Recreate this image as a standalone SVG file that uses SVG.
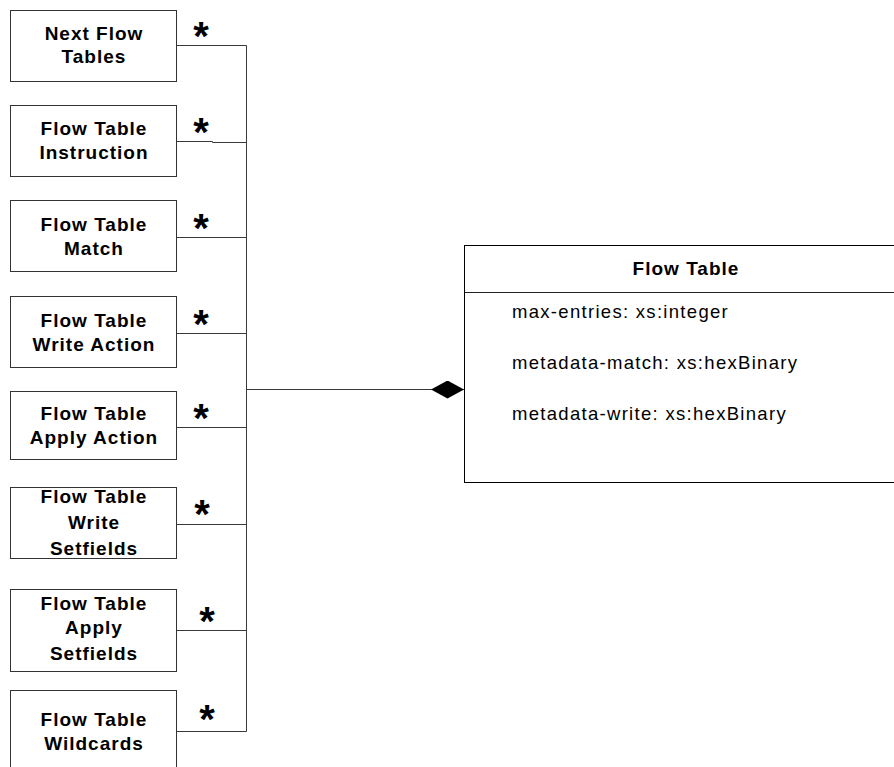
<svg xmlns="http://www.w3.org/2000/svg" width="894" height="767" viewBox="0 0 894 767">
  <style>
    .box { fill: #ffffff; stroke: #333333; stroke-width: 1; }
    .wire { fill: none; stroke: #3a3a3a; stroke-width: 1; }
    .lbl { font-family: "Liberation Sans", Arial, sans-serif; font-weight: bold; font-size: 19px; letter-spacing: 1px; text-anchor: middle; fill: #000; }
    .attr { font-family: "Liberation Sans", Arial, sans-serif; font-size: 18.5px; letter-spacing: 1.3px; fill: #000; }
    .mult { font-family: "Liberation Sans", Arial, sans-serif; font-weight: bold; font-size: 40px; text-anchor: middle; fill: #000; }
  </style>
  <defs>
    <marker id="composition" markerWidth="34" markerHeight="18" refX="33" refY="9" orient="auto" markerUnits="userSpaceOnUse">
      <path d="M0,9 L16.5,0 L33,9 L16.5,18 Z" fill="#000"/>
    </marker>
  </defs>
  <rect width="894" height="767" fill="#ffffff"/>

  <!-- connectors -->
  <g id="connectors">
    <path class="wire" d="M246.5,45.5 V731.5"/>
    <path class="wire" d="M177,45.5 H246.5"/>
    <path class="wire" d="M177,141.5 H212.5 V142.5 H246.5"/>
    <path class="wire" d="M177,237.5 H246.5"/>
    <path class="wire" d="M177,333.5 H246.5"/>
    <path class="wire" d="M177,427.5 H246.5"/>
    <path class="wire" d="M177,524.5 H246.5"/>
    <path class="wire" d="M177,630.5 H246.5"/>
    <path class="wire" d="M177,731.5 H246.5"/>
    <path class="wire" d="M246.5,389.5 H464" marker-end="url(#composition)"/>
    <text class="mult" x="201" y="50">*</text>
    <text class="mult" x="201" y="146">*</text>
    <text class="mult" x="201" y="242">*</text>
    <text class="mult" x="201" y="338">*</text>
    <text class="mult" x="201" y="432">*</text>
    <text class="mult" x="202" y="528">*</text>
    <text class="mult" x="207" y="635">*</text>
    <text class="mult" x="207" y="733">*</text>
  </g>

  <g id="next-flow-tables">
    <rect class="box" x="10.5" y="10.5" width="166" height="71"/>
    <text class="lbl" x="94" y="40">Next Flow</text>
    <text class="lbl" x="94" y="63">Tables</text>
  </g>
  <g id="flow-table-instruction">
    <rect class="box" x="10.5" y="105.5" width="166" height="71"/>
    <text class="lbl" x="94" y="135">Flow Table</text>
    <text class="lbl" x="94" y="159">Instruction</text>
  </g>
  <g id="flow-table-match">
    <rect class="box" x="10.5" y="200.5" width="166" height="71"/>
    <text class="lbl" x="94" y="231">Flow Table</text>
    <text class="lbl" x="94" y="255">Match</text>
  </g>
  <g id="flow-table-write-action">
    <rect class="box" x="10.5" y="296.5" width="166" height="71"/>
    <text class="lbl" x="94" y="327">Flow Table</text>
    <text class="lbl" x="94" y="351">Write Action</text>
  </g>
  <g id="flow-table-apply-action">
    <rect class="box" x="10.5" y="391.5" width="166" height="68"/>
    <text class="lbl" x="94" y="420">Flow Table</text>
    <text class="lbl" x="94" y="444">Apply Action</text>
  </g>
  <g id="flow-table-write-setfields">
    <rect class="box" x="10.5" y="487.5" width="166" height="71"/>
    <text class="lbl" x="94" y="503">Flow Table</text>
    <text class="lbl" x="94" y="529">Write</text>
    <text class="lbl" x="94" y="555">Setfields</text>
  </g>
  <g id="flow-table-apply-setfields">
    <rect class="box" x="10.5" y="589.5" width="166" height="82"/>
    <text class="lbl" x="94" y="610">Flow Table</text>
    <text class="lbl" x="94" y="634">Apply</text>
    <text class="lbl" x="94" y="660">Setfields</text>
  </g>
  <g id="flow-table-wildcards">
    <rect class="box" x="10.5" y="690.5" width="166" height="90"/>
    <text class="lbl" x="94" y="726">Flow Table</text>
    <text class="lbl" x="94" y="750">Wildcards</text>
  </g>

  <g id="flow-table">
    <rect x="464.5" y="245.5" width="440" height="237" fill="#ffffff" stroke="#000" stroke-width="1"/>
    <line x1="464.5" y1="292.5" x2="894" y2="292.5" stroke="#222" stroke-width="1"/>
    <text class="lbl" x="686" y="275">Flow Table</text>
    <text class="attr" x="512" y="318">max-entries: xs:integer</text>
    <text class="attr" x="512" y="369">metadata-match: xs:hexBinary</text>
    <text class="attr" x="512" y="420">metadata-write: xs:hexBinary</text>
  </g>
</svg>
